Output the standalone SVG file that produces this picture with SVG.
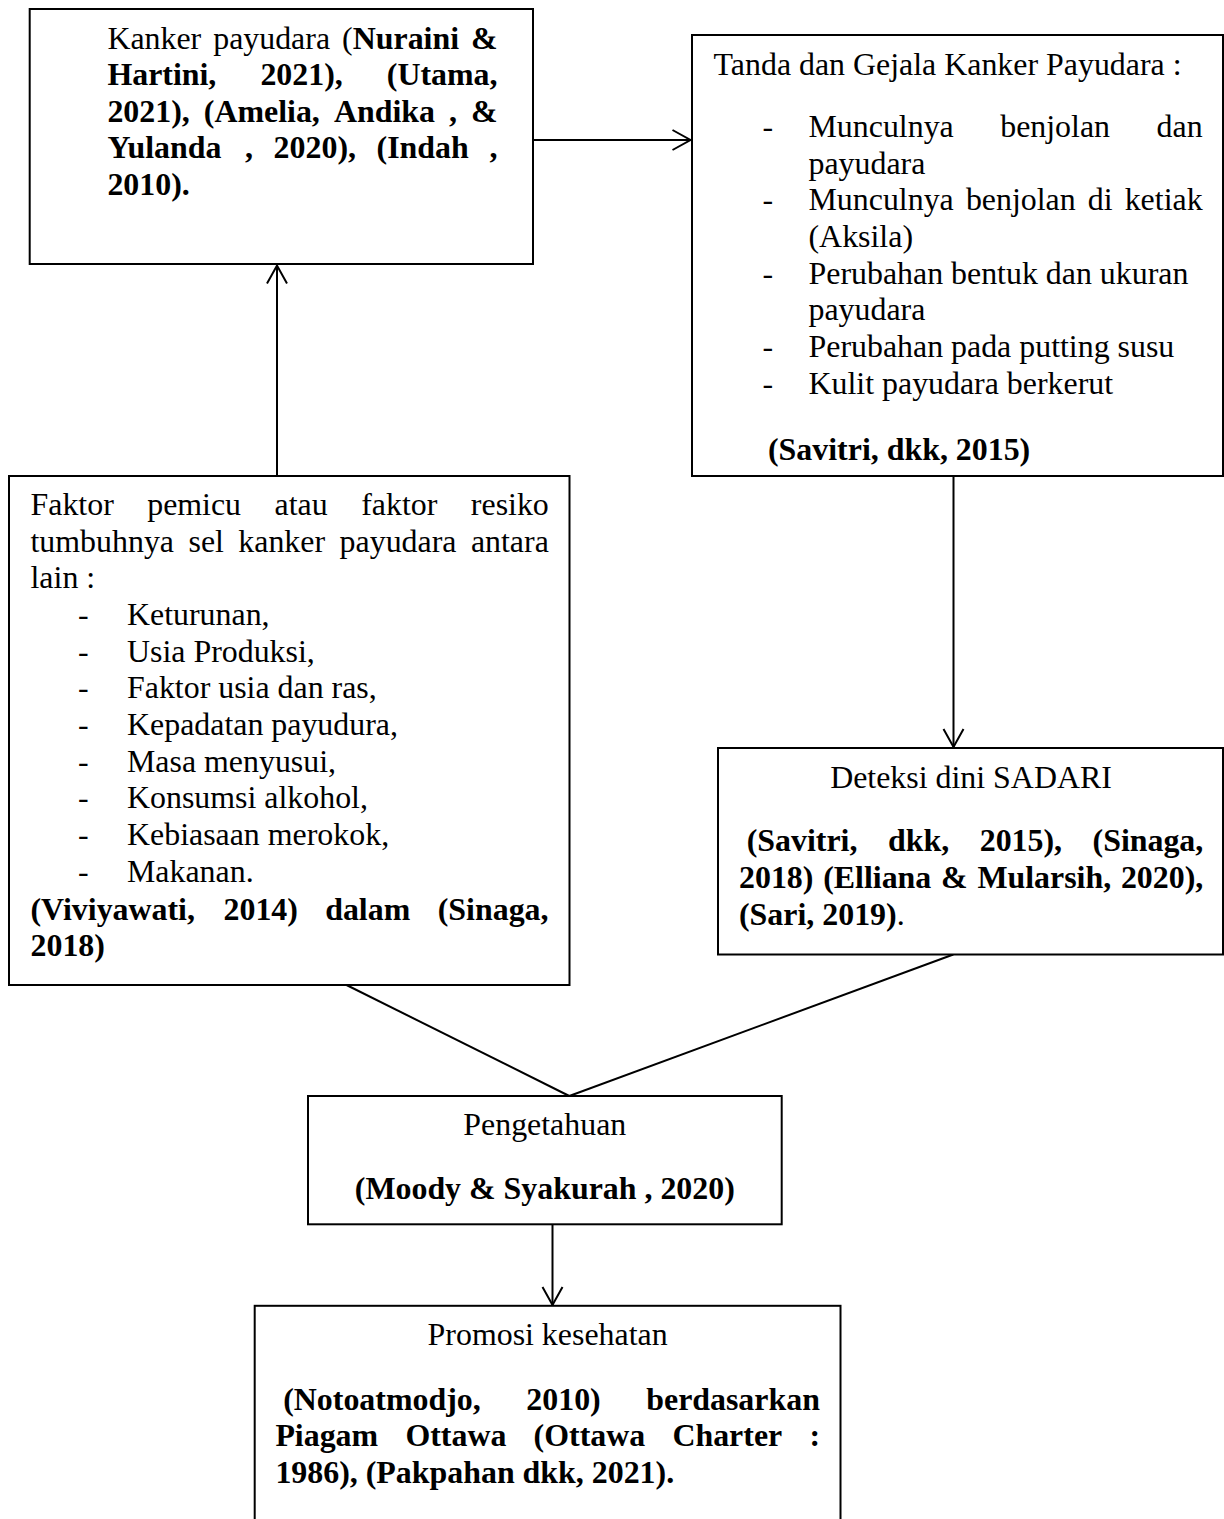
<svg xmlns="http://www.w3.org/2000/svg" width="1224" height="1519" viewBox="0 0 1224 1519">
<defs>
<style>
.box{fill:#fff;stroke:#000;stroke-width:2}
.t{font-family:"Liberation Serif","Times New Roman",serif;font-size:31.9px;fill:#000}
.b{font-weight:bold}
.e{text-anchor:end}
.m{text-anchor:middle}
.conn{stroke:#000;stroke-width:2;fill:none}
</style>
<marker id="arr" markerUnits="userSpaceOnUse" markerWidth="24" markerHeight="24" viewBox="-20 -12 24 24" refX="0" refY="0" orient="auto" overflow="visible">
<path d="M-18,-10 L0,0 L-18,10" fill="none" stroke="#000" stroke-width="2"/>
</marker>
</defs>
<rect width="1224" height="1519" fill="#fff"/>

<g id="connectors">
<line class="conn" x1="277" y1="476" x2="277" y2="265.5" marker-end="url(#arr)"/>
<line class="conn" x1="533" y1="140" x2="690.5" y2="140" marker-end="url(#arr)"/>
<line class="conn" x1="953.5" y1="476" x2="953.5" y2="747" marker-end="url(#arr)"/>
<line class="conn" x1="346.5" y1="985" x2="569.3" y2="1096"/>
<line class="conn" x1="953.3" y1="954.5" x2="569.3" y2="1096"/>
<line class="conn" x1="552.5" y1="1224.3" x2="552.5" y2="1305" marker-end="url(#arr)"/>
</g>

<g id="node-kanker">
<rect class="box" x="29.7" y="9" width="503.3" height="255"/>
<text class="t" x="107.4" y="48.5">Kanker</text>
<text class="t" x="213.2" y="48.5">payudara</text>
<text class="t" x="342.1" y="48.5">(<tspan class="b">Nuraini</tspan></text>
<text class="t b e" x="497.5" y="48.5">&amp;</text>
<text class="t b" x="107.4" y="85.1">Hartini,</text>
<text class="t b" x="260.4" y="85.1">2021),</text>
<text class="t b e" x="497.5" y="85.1">(Utama,</text>
<text class="t b" x="107.4" y="121.7">2021),</text>
<text class="t b" x="203.8" y="121.7">(Amelia,</text>
<text class="t b" x="333.9" y="121.7">Andika</text>
<text class="t b" x="449" y="121.7">,</text>
<text class="t b e" x="497.5" y="121.7">&amp;</text>
<text class="t b" x="107.4" y="158.3">Yulanda</text>
<text class="t b" x="245" y="158.3">,</text>
<text class="t b" x="273.6" y="158.3">2020),</text>
<text class="t b" x="376.6" y="158.3">(Indah</text>
<text class="t b e" x="497.5" y="158.3">,</text>
<text class="t b" x="107.4" y="194.9">2010).</text>
</g>

<g id="node-tanda">
<rect class="box" x="692" y="35" width="531" height="441"/>
<text class="t" x="713.6" y="75">Tanda dan Gejala Kanker Payudara :</text>
<text class="t" x="762.4" y="137">-</text>
<text class="t" x="808.5" y="137">Munculnya</text>
<text class="t" x="1000.2" y="137">benjolan</text>
<text class="t e" x="1202.6" y="137">dan</text>
<text class="t" x="808.5" y="173.6">payudara</text>
<text class="t" x="762.4" y="210.2">-</text>
<text class="t" x="808.5" y="210.2">Munculnya</text>
<text class="t" x="965.9" y="210.2">benjolan</text>
<text class="t" x="1087.8" y="210.2">di</text>
<text class="t e" x="1202.6" y="210.2">ketiak</text>
<text class="t" x="808.5" y="246.8">(Aksila)</text>
<text class="t" x="762.4" y="284">-</text>
<text class="t" x="808.5" y="284">Perubahan bentuk dan ukuran</text>
<text class="t" x="808.5" y="320.4">payudara</text>
<text class="t" x="762.4" y="357.4">-</text>
<text class="t" x="808.5" y="357.4">Perubahan pada putting susu</text>
<text class="t" x="762.4" y="394">-</text>
<text class="t" x="808.5" y="394">Kulit payudara berkerut</text>
<text class="t b" x="768" y="460">(Savitri, dkk, 2015)</text>
</g>

<g id="node-faktor">
<rect class="box" x="9" y="476" width="560.5" height="509"/>
<text class="t" x="30.5" y="515">Faktor</text>
<text class="t" x="147.2" y="515">pemicu</text>
<text class="t" x="274.6" y="515">atau</text>
<text class="t" x="361.2" y="515">faktor</text>
<text class="t e" x="548.8" y="515">resiko</text>
<text class="t" x="30.5" y="551.7">tumbuhnya</text>
<text class="t" x="188.5" y="551.7">sel</text>
<text class="t" x="238.3" y="551.7">kanker</text>
<text class="t" x="339.6" y="551.7">payudara</text>
<text class="t e" x="548.8" y="551.7">antara</text>
<text class="t" x="30.5" y="588.3">lain :</text>
<text class="t" x="78" y="625">-</text><text class="t" x="127" y="625">Keturunan,</text>
<text class="t" x="78" y="661.7">-</text><text class="t" x="127" y="661.7">Usia Produksi,</text>
<text class="t" x="78" y="698.3">-</text><text class="t" x="127" y="698.3">Faktor usia dan ras,</text>
<text class="t" x="78" y="735">-</text><text class="t" x="127" y="735">Kepadatan payudura,</text>
<text class="t" x="78" y="771.7">-</text><text class="t" x="127" y="771.7">Masa menyusui,</text>
<text class="t" x="78" y="808.3">-</text><text class="t" x="127" y="808.3">Konsumsi alkohol,</text>
<text class="t" x="78" y="845">-</text><text class="t" x="127" y="845">Kebiasaan merokok,</text>
<text class="t" x="78" y="881.7">-</text><text class="t" x="127" y="881.7">Makanan.</text>
<text class="t b" x="30.5" y="919.5">(Viviyawati,</text>
<text class="t b" x="223.5" y="919.5">2014)</text>
<text class="t b" x="325.2" y="919.5">dalam</text>
<text class="t b e" x="548.5" y="919.5">(Sinaga,</text>
<text class="t b" x="30.5" y="956.2">2018)</text>
</g>

<g id="node-deteksi">
<rect class="box" x="718" y="748" width="505" height="206.5"/>
<text class="t m" x="971" y="787.7">Deteksi dini SADARI</text>
<text class="t b" x="746.7" y="851">(Savitri,</text>
<text class="t b" x="888" y="851">dkk,</text>
<text class="t b" x="979.7" y="851">2015),</text>
<text class="t b e" x="1203.3" y="851">(Sinaga,</text>
<text class="t b" x="739" y="887.8">2018)</text>
<text class="t b" x="823.2" y="887.8">(Elliana</text>
<text class="t b" x="941" y="887.8">&amp;</text>
<text class="t b" x="977.4" y="887.8">Mularsih,</text>
<text class="t b e" x="1203.3" y="887.8">2020),</text>
<text class="t" x="739" y="924.5"><tspan class="b">(Sari, 2019)</tspan>.</text>
</g>

<g id="node-pengetahuan">
<rect class="box" x="308" y="1096" width="473.7" height="128.3"/>
<text class="t m" x="544.8" y="1134.7">Pengetahuan</text>
<text class="t b m" x="544.8" y="1199">(Moody &amp; Syakurah , 2020)</text>
</g>

<g id="node-promosi">
<rect class="box" x="254.7" y="1305.8" width="585.8" height="240"/>
<text class="t m" x="547.6" y="1344.5">Promosi kesehatan</text>
<text class="t b" x="283.2" y="1409.7">(Notoatmodjo,</text>
<text class="t b" x="526.3" y="1409.7">2010)</text>
<text class="t b e" x="819.9" y="1409.7">berdasarkan</text>
<text class="t b" x="275.4" y="1446.3">Piagam</text>
<text class="t b" x="405.4" y="1446.3">Ottawa</text>
<text class="t b" x="533.6" y="1446.3">(Ottawa</text>
<text class="t b" x="672.4" y="1446.3">Charter</text>
<text class="t b e" x="820" y="1446.3">:</text>
<text class="t b" x="275.4" y="1482.9">1986), (Pakpahan dkk, 2021).</text>
</g>
</svg>
